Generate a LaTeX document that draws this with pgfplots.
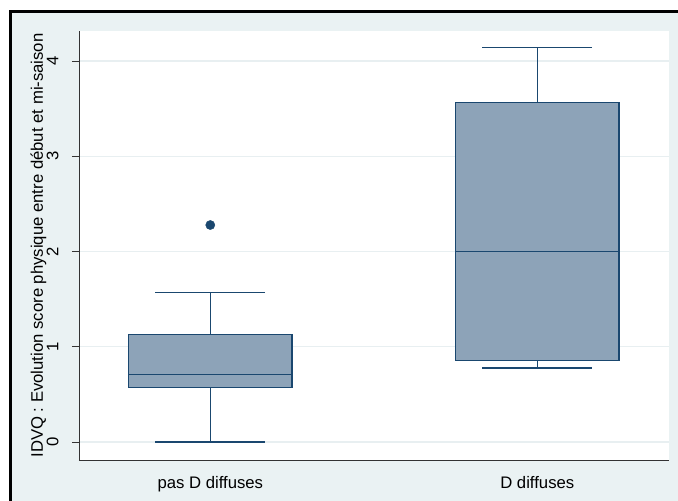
\documentclass[border=0pt]{standalone}
\usepackage{pgfplots}
\pgfplotsset{compat=1.18}
\usepgfplotslibrary{statistics}
\usepackage{fontspec}
\setmainfont{Liberation Sans}
\definecolor{bg}{RGB}{234,242,243}
\definecolor{navy}{RGB}{26,71,111}
\definecolor{boxfill}{RGB}{141,163,184}
\definecolor{gridc}{RGB}{232,239,241}
\newcommand{\fs}{\fontsize{16.7}{20}\selectfont}
\begin{document}
\fs
\begin{tikzpicture}[x=1pt,y=1pt]
\fill[white] (-79,-41) rectangle (599,460);
\fill[bg] (-68.5,-41) rectangle (599,448);
\draw[black, line width=3pt] (-68.5,-41) -- (-68.5,448) -- (599,448);
\begin{axis}[
  at={(0,0)}, anchor=south west,
  scale only axis, width=590pt, height=429pt,
  xmin=0.5985, xmax=2.4028, ymin=-0.189, ymax=4.315,
  axis x line*=bottom, axis y line*=left,
  axis line style={-, black!80, line width=0.8pt},
  axis background/.style={fill=white},
  ymajorgrids, grid style={gridc, line width=1.2pt},
  ytick={0,1,2,3,4},
  xtick={1,2}, xticklabels={pas D diffuses, D diffuses},
  tick align=outside, major tick length=7pt,
  ytick style={draw=black!80, line width=0.8pt},
  xtick style={draw=none},
  /pgf/number format/assume math mode=true,
  tick label style={font=\fs},
  yticklabel style={xshift=-13.5pt, rotate=90, anchor=base, inner sep=0pt},
  xticklabel style={anchor=base, yshift=-22pt, inner sep=0pt},
  ylabel={IDVQ : Evolution score physique entre début et mi-saison},
  every axis y label/.style={at={(axis description cs:0,0.5)}, xshift=-36pt, rotate=90, anchor=base, font=\fs},
  boxplot/draw direction=y,
]
\addplot[boxplot prepared={draw position=1, lower whisker=0, lower quartile=0.570,
    median=0.711, upper quartile=1.127, upper whisker=1.568,
    box extend=0.5, whisker extend=0.336},
  draw=navy, fill=boxfill, line width=1.5pt,
  mark=*, mark size=4.6pt, mark options={solid, fill=navy, draw=navy, line width=0.4pt}]
  table[row sep=\\, y index=0] {data\\ 2.278\\};
\addplot[boxplot prepared={draw position=2, lower whisker=0.777, lower quartile=0.857,
    median=2.0, upper quartile=3.564, upper whisker=4.14,
    box extend=0.5, whisker extend=0.336},
  draw=navy, fill=boxfill, line width=1.5pt]
  table[row sep=\\, y index=0] {data\\};
\end{axis}
\pgfresetboundingbox
\path[use as bounding box] (-79,-41) rectangle (599,460);
\end{tikzpicture}
\end{document}
